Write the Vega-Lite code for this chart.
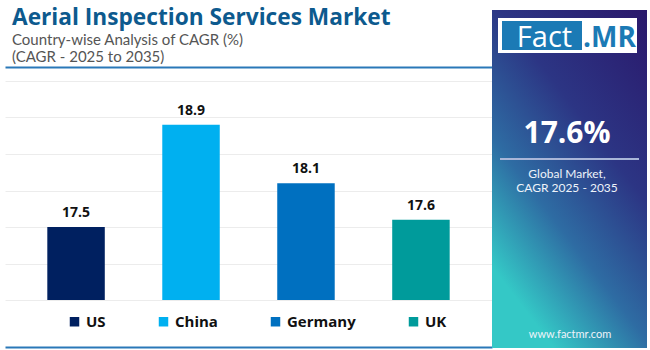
{
  "$schema": "https://vega.github.io/schema/vega-lite/v6.json",
  "background": "white",
  "padding": {"left": 5, "top": 6, "right": 3, "bottom": 2},
  "spacing": 0,
  "config": {"view": {"stroke": null}, "font": "Lato"},
  "hconcat": [
    {
      "width": 487,
      "height": 219,
      "title": {
        "text": "Aerial Inspection Services Market",
        "subtitle": ["Country-wise Analysis of CAGR (%)", "(CAGR - 2025 to 2035)"],
        "anchor": "start",
        "frame": "group",
        "font": "Open Sans",
        "fontSize": 22.7,
        "fontWeight": "bold",
        "color": "#0d5a8e",
        "subtitleFont": "Lato",
        "subtitleFontSize": 15,
        "subtitleColor": "#555555",
        "subtitleLineHeight": 17.5,
        "subtitlePadding": 3,
        "offset": 2,
        "dx": 7
      },
      "data": {
        "values": [
          {"country": "US", "cagr": 17.5},
          {"country": "China", "cagr": 18.9},
          {"country": "Germany", "cagr": 18.1},
          {"country": "UK", "cagr": 17.6}
        ]
      },
      "encoding": {
        "y": {
          "field": "cagr",
          "type": "quantitative",
          "scale": {"domain": [16.5, 19.5], "zero": false, "nice": false},
          "axis": {
            "title": null,
            "labels": false,
            "ticks": false,
            "domain": false,
            "grid": true,
            "gridColor": "#ececec",
            "values": [16.5, 17, 17.5, 18, 18.5, 19, 19.5],
            "minExtent": 0,
            "maxExtent": 0
          }
        }
      },
      "layer": [
        {
          "mark": {"type": "bar"},
          "encoding": {
            "x": {
              "field": "country",
              "type": "nominal",
              "sort": null,
              "scale": {"paddingInner": 0.5, "paddingOuter": 0.368},
              "axis": {
                "orient": "bottom",
                "title": null,
                "labels": false,
                "ticks": false,
                "grid": false,
                "domain": true,
                "domainColor": "#2a78b8",
                "domainWidth": 2,
                "offset": 47
              }
            },
            "y2": {"datum": 16.5},
            "color": {
              "field": "country",
              "type": "nominal",
              "sort": null,
              "scale": {
                "domain": ["US", "China", "Germany", "UK"],
                "range": ["#002060", "#00b0f0", "#0070c0", "#009b9b"]
              },
              "legend": {
                "orient": "none",
                "legendX": 62,
                "legendY": 233,
                "direction": "horizontal",
                "title": null,
                "symbolType": "square",
                "symbolSize": 90,
                "symbolStrokeWidth": 0,
                "labelFont": "Open Sans",
                "labelFontSize": 15,
                "labelFontWeight": "bold",
                "labelColor": "#111111",
                "labelOffset": 4,
                "columnPadding": 50
              }
            }
          }
        },
        {
          "mark": {
            "type": "text",
            "baseline": "alphabetic",
            "dy": -10,
            "font": "Open Sans",
            "fontSize": 14,
            "fontWeight": "bold",
            "color": "#111111"
          },
          "encoding": {
            "x": {
              "field": "country",
              "type": "nominal",
              "sort": null,
              "axis": {
                "orient": "top",
                "title": null,
                "labels": false,
                "ticks": false,
                "grid": false,
                "domain": true,
                "domainColor": "#2a78b8",
                "domainWidth": 2,
                "offset": 14
              }
            },
            "text": {"field": "cagr", "type": "quantitative", "format": ".1f"}
          }
        }
      ],
      "resolve": {"axis": {"x": "independent"}}
    },
    {
      "width": 155,
      "height": 267,
      "view": {"stroke": null, "fill": null},
      "layer": [
        {
          "data": {"values": [{"item": "panel"}]},
          "mark": {
            "type": "point",
            "shape": "M-77.5,-204.5h155v338h-155z",
            "size": 4,
            "filled": true,
            "opacity": 1,
            "strokeWidth": 0,
            "fill": {
              "gradient": "linear",
              "x1": 1, "y1": 0, "x2": 0.4, "y2": 1,
              "stops": [
                {"offset": 0, "color": "#2a186b"},
                {"offset": 0.42, "color": "#2c3584"},
                {"offset": 0.72, "color": "#2e6ca3"},
                {"offset": 1, "color": "#34c8c6"}
              ]
            }
          }
        },
        {
          "data": {"values": [{"item": "logo"}]},
          "mark": {"type": "point", "shape": "M-71.5,-196.5h139v35h-139z", "size": 4, "filled": true, "color": "white", "opacity": 1, "strokeWidth": 0}
        },
        {
          "data": {"values": [{"item": "logo"}]},
          "mark": {"type": "point", "shape": "M-67.5,-193.5h80v29h-80z", "size": 4, "filled": true, "color": "#1b7ab5", "opacity": 1, "strokeWidth": 0}
        },
        {
          "data": {"values": [{"item": "separator"}]},
          "mark": {"type": "point", "shape": "M-69.5,-55.5H69.5", "size": 4, "filled": false, "color": "#a9b6d8", "opacity": 1, "strokeWidth": 2}
        },
        {
          "data": {"values": [{"label": "Fact"}]},
          "mark": {"type": "text", "align": "center", "baseline": "alphabetic", "dx": -25, "dy": -167.5, "font": "Open Sans", "fontSize": 29, "fontWeight": "normal", "color": "white"},
          "encoding": {"text": {"field": "label"}}
        },
        {
          "data": {"values": [{"label": ".MR"}]},
          "mark": {"type": "text", "align": "center", "baseline": "alphabetic", "dx": 40, "dy": -167.5, "font": "Open Sans", "fontSize": 28, "fontWeight": "bold", "color": "#1b7ab5"},
          "encoding": {"text": {"field": "label"}}
        },
        {
          "data": {"values": [{"label": "17.6%"}]},
          "mark": {"type": "text", "align": "center", "baseline": "alphabetic", "dx": -2.5, "dy": -71.5, "font": "Open Sans", "fontSize": 30, "fontWeight": "bold", "color": "white"},
          "encoding": {"text": {"field": "label"}}
        },
        {
          "data": {"values": [{"label": "Global Market,"}]},
          "mark": {"type": "text", "align": "center", "baseline": "alphabetic", "dx": -2.5, "dy": -37, "font": "Lato", "fontSize": 12, "color": "#eef3fa"},
          "encoding": {"text": {"field": "label"}}
        },
        {
          "data": {"values": [{"label": "CAGR 2025 - 2035"}]},
          "mark": {"type": "text", "align": "center", "baseline": "alphabetic", "dx": -2.5, "dy": -22.5, "font": "Lato", "fontSize": 12, "color": "#eef3fa"},
          "encoding": {"text": {"field": "label"}}
        },
        {
          "data": {"values": [{"label": "www.factmr.com"}]},
          "mark": {"type": "text", "align": "center", "baseline": "alphabetic", "dx": 0.5, "dy": 123.5, "font": "Lato", "fontSize": 11, "color": "#eef3fa"},
          "encoding": {"text": {"field": "label"}}
        }
      ]
    }
  ]
}
